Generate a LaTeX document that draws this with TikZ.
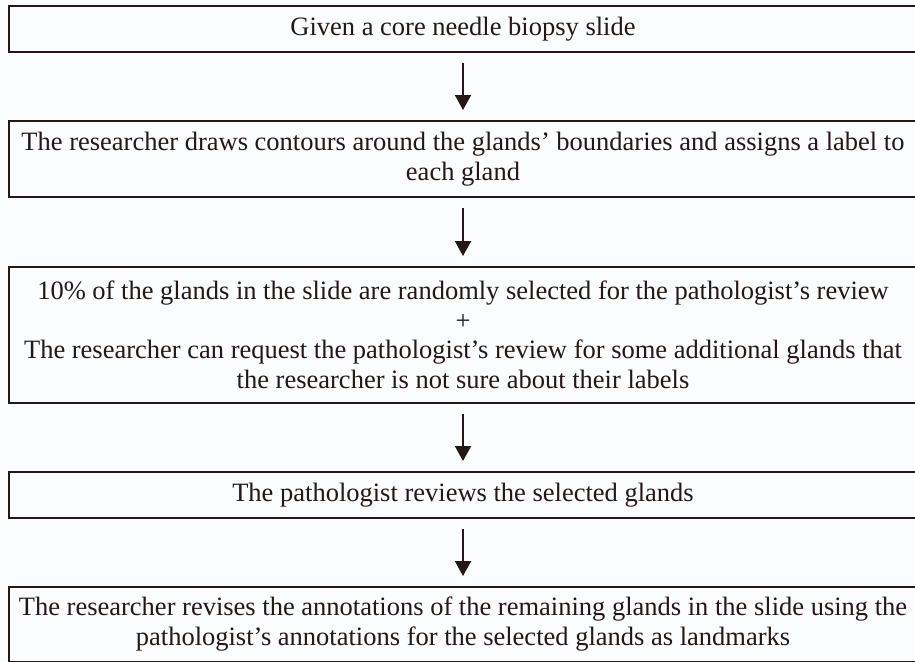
\documentclass[tikz,border=0pt]{standalone}
\usepackage{fontspec}
\setmainfont{Liberation Serif}
\usetikzlibrary{arrows.meta}
\definecolor{ink}{HTML}{231815}
\definecolor{bg}{HTML}{FBFCFE}
\tikzset{
  stepbox/.style={draw=ink, line width=1.8pt, rectangle, inner sep=0pt, outer sep=0pt,
    minimum width=908pt, align=center, text=ink,
    font=\fontsize{26.5}{29.5}\selectfont},
  flowarrow/.style={draw=ink, line width=2pt, -{Triangle[width=16pt,length=15pt]}}
}
\begin{document}
\begin{tikzpicture}[x=1pt,y=1pt]
\fill[bg] (0,0) rectangle (915,-662);
\useasboundingbox (0,0) rectangle (915,-662);
\node[stepbox, minimum height=46pt] (b1) at (463,-29) {Given a core needle biopsy slide};
\node[stepbox, minimum height=76pt] (b2) at (463,-159) {The researcher draws contours around the glands’ boundaries and assigns a label to\\each gland};
\node[stepbox, minimum height=136pt] (b3) at (463,-335) {10\% of the glands in the slide are randomly selected for the pathologist’s review\\+\\The researcher can request the pathologist’s review for some additional glands that\\the researcher is not sure about their labels};
\node[stepbox, minimum height=46pt] (b4) at (463,-495) {The pathologist reviews the selected glands};
\node[stepbox, minimum height=74.5pt] (b5) at (463,-624.25) {The researcher revises the annotations of the remaining glands in the slide using the\\pathologist’s annotations for the selected glands as landmarks};
\draw[flowarrow] ([yshift=-11pt]b1.south) -- ([yshift=11pt]b2.north);
\draw[flowarrow] ([yshift=-11pt]b2.south) -- ([yshift=11pt]b3.north);
\draw[flowarrow] ([yshift=-11pt]b3.south) -- ([yshift=11pt]b4.north);
\draw[flowarrow] ([yshift=-11pt]b4.south) -- ([yshift=11pt]b5.north);
\end{tikzpicture}
\end{document}
